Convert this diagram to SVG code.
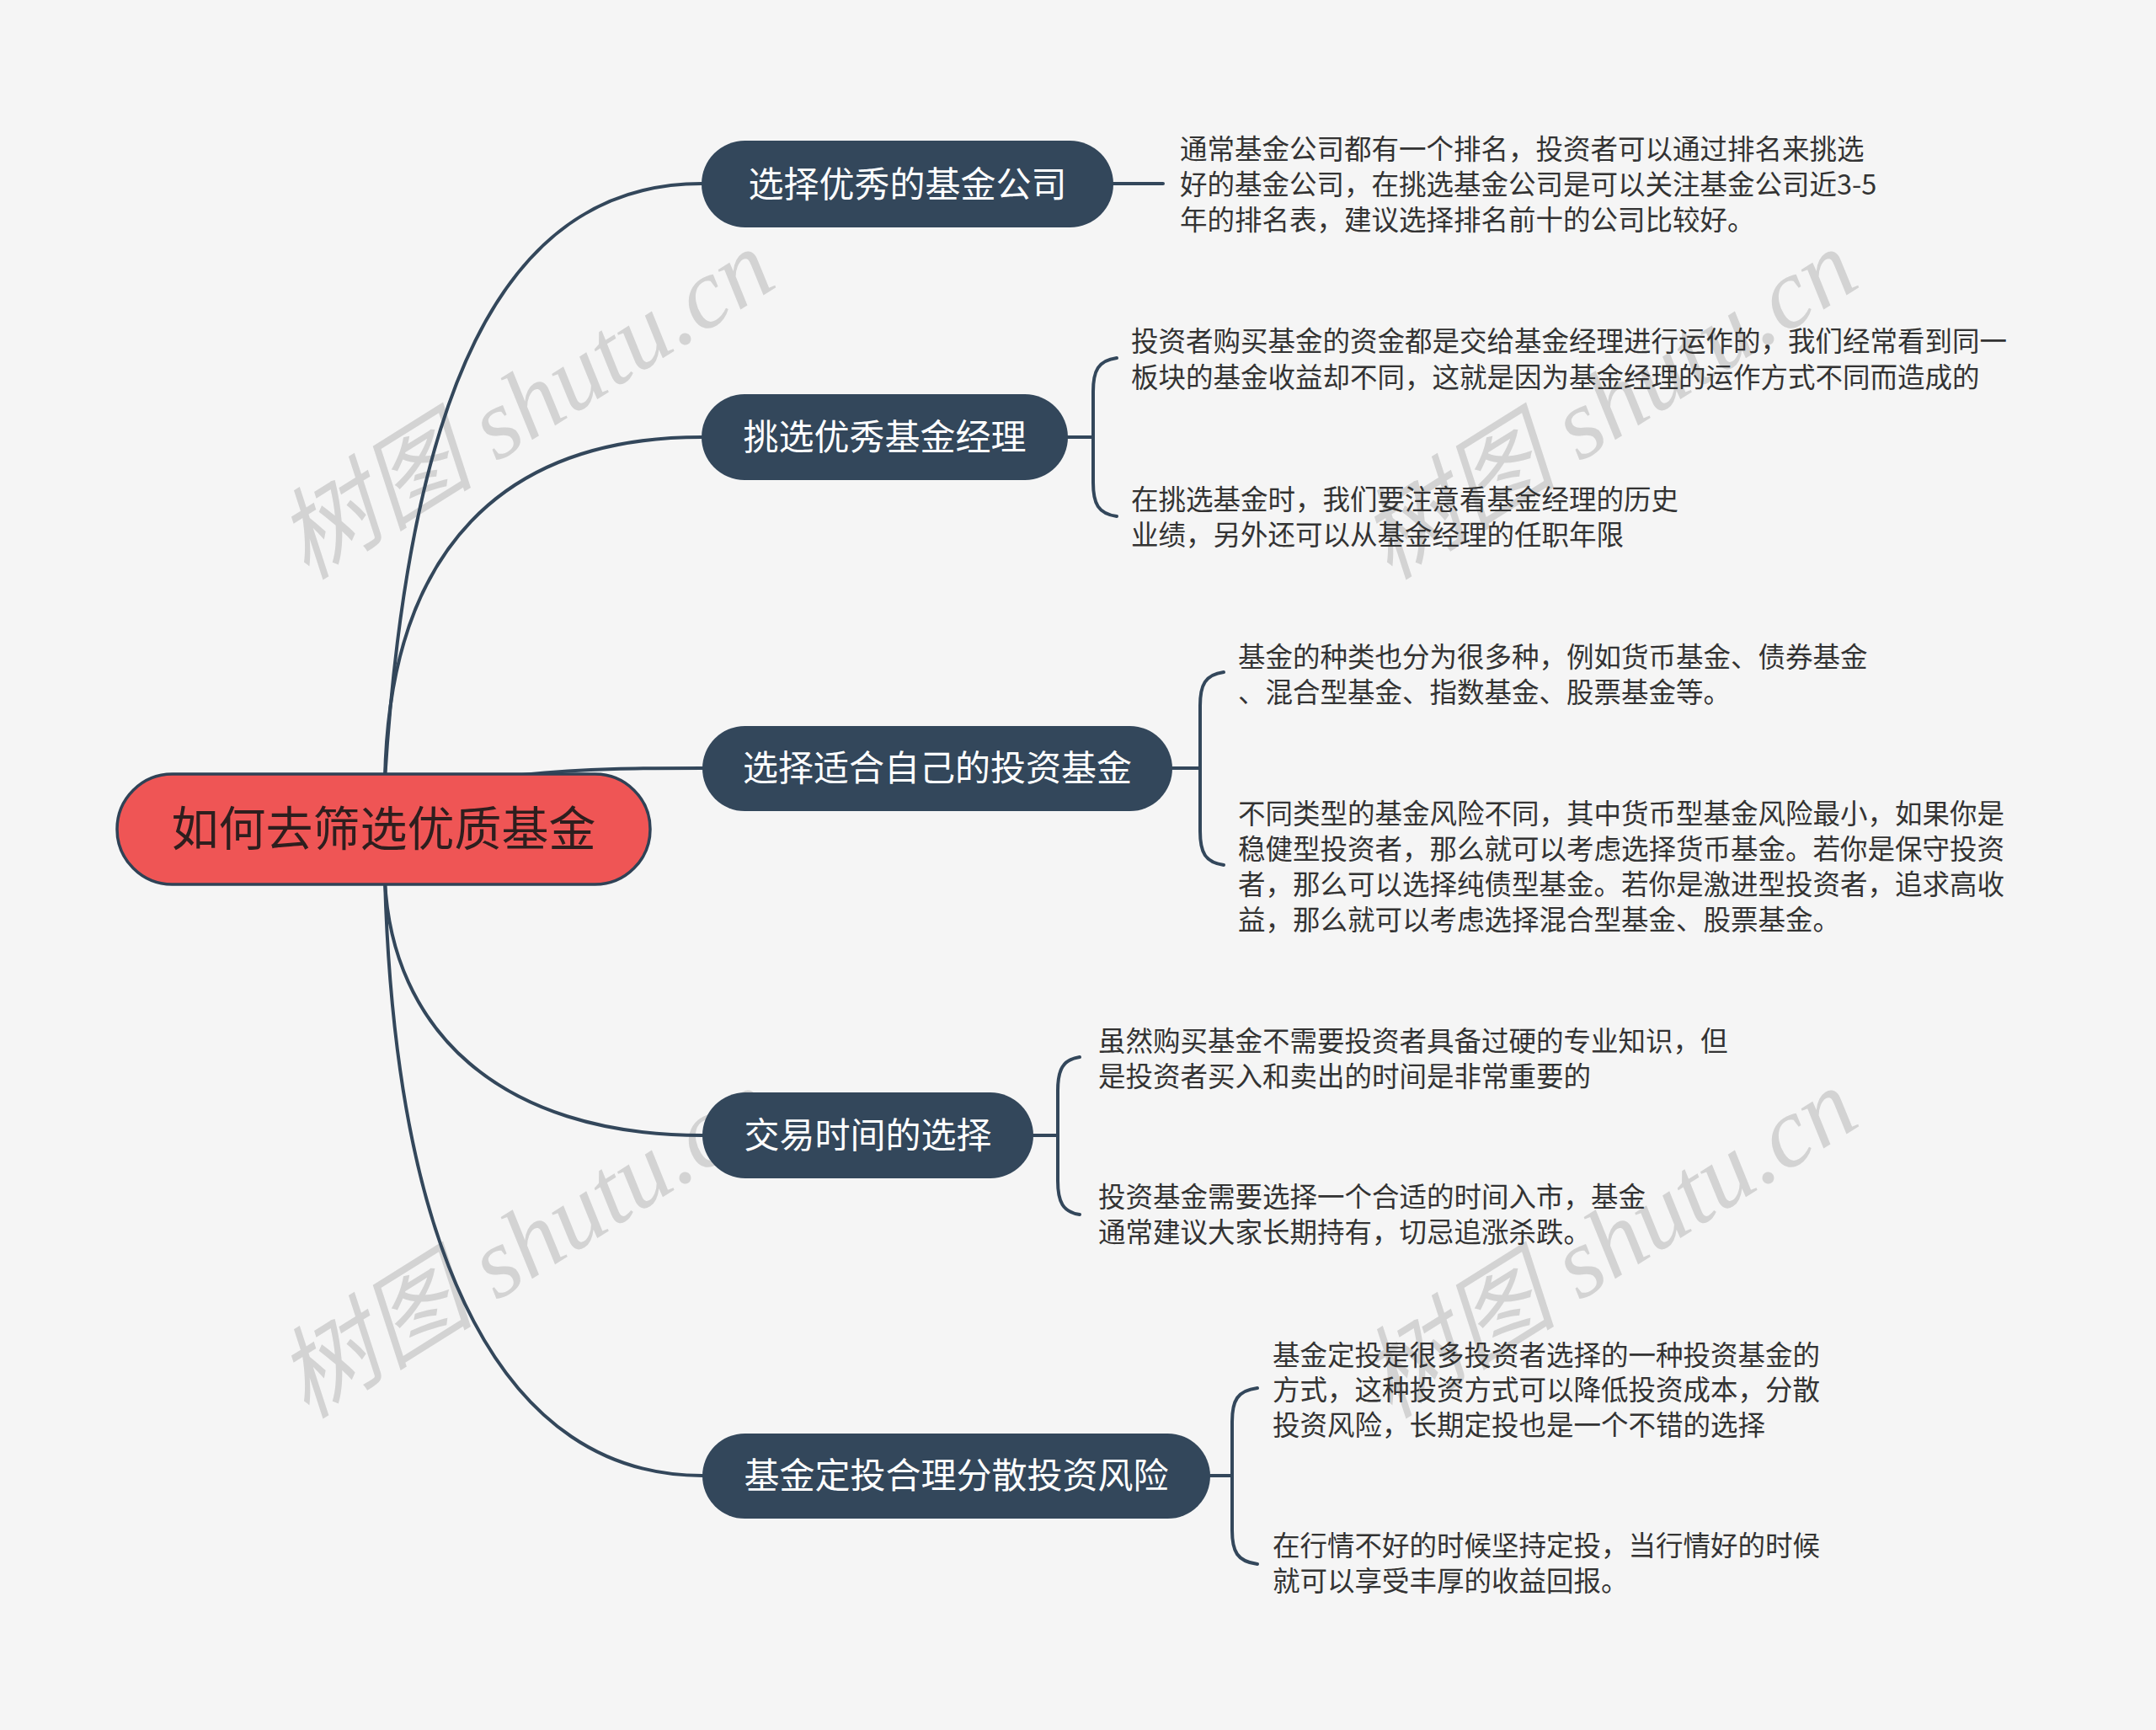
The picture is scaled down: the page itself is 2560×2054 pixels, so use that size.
<svg xmlns="http://www.w3.org/2000/svg" width="2560" height="2054" viewBox="0 0 2560 2054">
<style>
.bg{fill:#f5f5f5}
.wm{font-family:"Liberation Serif","Noto Sans CJK SC",serif;font-style:italic;font-size:118px;fill:#d3d3d3;text-anchor:middle}
.conn{fill:none;stroke:#33475b;stroke-width:4;stroke-linecap:round}
.root rect{fill:#ef5555;stroke:#2f4256;stroke-width:3.5}
.root text{font-family:"Noto Sans CJK SC","Liberation Sans",sans-serif;font-size:56px;fill:#2e1e1e;text-anchor:middle}
.br rect{fill:#33475b}
.br text{font-family:"Noto Sans CJK SC","Liberation Sans",sans-serif;font-size:42px;fill:#ffffff;text-anchor:middle}
.leaf text{font-family:"Noto Sans CJK SC","Liberation Sans",sans-serif;font-size:32.5px;fill:#333333}
</style>
<rect class="bg" x="0" y="0" width="2560" height="2054"/>
<g id="watermarks">
<text class="wm" transform="translate(645,514) rotate(-32)">树图 shutu.cn</text>
<text class="wm" transform="translate(1931,514) rotate(-32)">树图 shutu.cn</text>
<text class="wm" transform="translate(645,1510) rotate(-32)">树图 shutu.cn</text>
<text class="wm" transform="translate(1931,1510) rotate(-32)">树图 shutu.cn</text>
</g>
<g id="connectors">
<path class="conn" d="M457 925 C485 480 590 218 833 218"/>
<path class="conn" d="M457 925 C462 650 600 519 833 519"/>
<path class="conn" d="M620 920 C700 912 760 912 834 912"/>
<path class="conn" d="M457 1045 C465 1220 590 1348 834 1348"/>
<path class="conn" d="M457 1045 C470 1500 600 1752 834 1752"/>
<path class="conn" d="M1322 218 H1381"/>
<path class="conn" d="M1268 519 H1298"/>
<path class="conn" d="M1326 425 C1304 428 1298 440 1298 465 V573 C1298 598 1304 610 1326 613"/>
<path class="conn" d="M1392 912 H1425"/>
<path class="conn" d="M1453 798 C1431 801 1425 813 1425 838 V987 C1425 1012 1431 1024 1453 1027"/>
<path class="conn" d="M1227 1348 H1256"/>
<path class="conn" d="M1282 1255 C1262 1258 1256 1270 1256 1295 V1402 C1256 1427 1262 1439 1282 1442"/>
<path class="conn" d="M1437 1752 H1463"/>
<path class="conn" d="M1493 1648 C1469 1651 1463 1663 1463 1688 V1817 C1463 1842 1469 1854 1493 1857"/>
</g>
<g id="root" class="root">
<rect x="139" y="919" width="633" height="131" rx="65.5"/>
<text x="455.5" y="1004">如何去筛选优质基金</text>
</g>
<g id="node1" class="br">
<rect x="833" y="167" width="489" height="103" rx="51.5"/>
<text x="1077.5" y="234">选择优秀的基金公司</text>
</g>
<g id="node2" class="br">
<rect x="833" y="468" width="435" height="102" rx="51"/>
<text x="1050.5" y="534">挑选优秀基金经理</text>
</g>
<g id="node3" class="br">
<rect x="834" y="862" width="558" height="101" rx="50.5"/>
<text x="1113" y="927">选择适合自己的投资基金</text>
</g>
<g id="node4" class="br">
<rect x="834" y="1297" width="393" height="102" rx="51"/>
<text x="1030.5" y="1363">交易时间的选择</text>
</g>
<g id="node5" class="br">
<rect x="834" y="1702" width="603" height="101" rx="50.5"/>
<text x="1135.5" y="1767">基金定投合理分散投资风险</text>
</g>
<g id="leaf1" class="leaf">
<text x="1401" y="189">通常基金公司都有一个排名，投资者可以通过排名来挑选</text>
<text x="1401" y="231">好的基金公司，在挑选基金公司是可以关注基金公司近3-5</text>
<text x="1401" y="273">年的排名表，建议选择排名前十的公司比较好。</text>
</g>
<g id="leaf2a" class="leaf">
<text x="1343" y="417">投资者购买基金的资金都是交给基金经理进行运作的，我们经常看到同一</text>
<text x="1343" y="460">板块的基金收益却不同，这就是因为基金经理的运作方式不同而造成的</text>
</g>
<g id="leaf2b" class="leaf">
<text x="1343" y="605">在挑选基金时，我们要注意看基金经理的历史</text>
<text x="1343" y="647">业绩，另外还可以从基金经理的任职年限</text>
</g>
<g id="leaf3a" class="leaf">
<text x="1470" y="792">基金的种类也分为很多种，例如货币基金、债券基金</text>
<text x="1470" y="834">、混合型基金、指数基金、股票基金等。</text>
</g>
<g id="leaf3b" class="leaf">
<text x="1470" y="978">不同类型的基金风险不同，其中货币型基金风险最小，如果你是</text>
<text x="1470" y="1020">稳健型投资者，那么就可以考虑选择货币基金。若你是保守投资</text>
<text x="1470" y="1062">者，那么可以选择纯债型基金。若你是激进型投资者，追求高收</text>
<text x="1470" y="1104">益，那么就可以考虑选择混合型基金、股票基金。</text>
</g>
<g id="leaf4a" class="leaf">
<text x="1304" y="1248">虽然购买基金不需要投资者具备过硬的专业知识，但</text>
<text x="1304" y="1290">是投资者买入和卖出的时间是非常重要的</text>
</g>
<g id="leaf4b" class="leaf">
<text x="1304" y="1433">投资基金需要选择一个合适的时间入市，基金</text>
<text x="1304" y="1475">通常建议大家长期持有，切忌追涨杀跌。</text>
</g>
<g id="leaf5a" class="leaf">
<text x="1511" y="1621">基金定投是很多投资者选择的一种投资基金的</text>
<text x="1511" y="1662">方式，这种投资方式可以降低投资成本，分散</text>
<text x="1511" y="1704">投资风险，长期定投也是一个不错的选择</text>
</g>
<g id="leaf5b" class="leaf">
<text x="1511" y="1847">在行情不好的时候坚持定投，当行情好的时候</text>
<text x="1511" y="1889">就可以享受丰厚的收益回报。</text>
</g>
</svg>
